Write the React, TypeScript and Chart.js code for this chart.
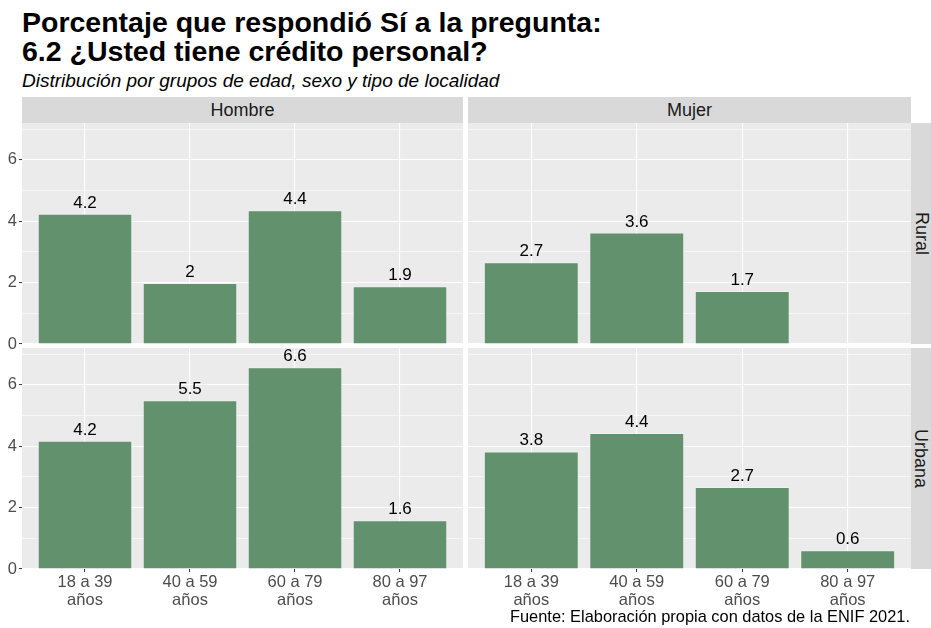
import React, { useEffect, useRef } from "react";
import { Chart, registerables } from "chart.js";

Chart.register(...registerables);

// ---- Data ----
const ageGroups: string[][] = [
  ["18 a 39", "años"],
  ["40 a 59", "años"],
  ["60 a 79", "años"],
  ["80 a 97", "años"],
];
const hombreRural: (number | null)[] = [4.24, 1.99, 4.36, 1.88];
const mujerRural: (number | null)[] = [2.66, 3.63, 1.73, null];
const hombreUrbana: (number | null)[] = [4.18, 5.5, 6.57, 1.59];
const mujerUrbana: (number | null)[] = [3.83, 4.43, 2.67, 0.61];
const yTickValues = [0, 1, 2, 3, 4, 5, 6, 7];
const yMax = 7.2;

const titleLines = ["Porcentaje que respondió Sí a la pregunta:", "6.2 ¿Usted tiene crédito personal?"];
const subtitle = "Distribución por grupos de edad, sexo y tipo de localidad";
const caption = "Fuente: Elaboración propia con datos de la ENIF 2021.";
const colStrips = ["Hombre", "Mujer"];
const rowStrips = ["Rural", "Urbana"];

const FONT = "'Liberation Sans', Arial, Helvetica, sans-serif";
Chart.defaults.font.family = FONT;

const panelBg = {
  id: "panelBg",
  beforeDraw(chart: any) {
    const { ctx, chartArea: a } = chart;
    ctx.save();
    ctx.fillStyle = "#EBEBEB";
    ctx.fillRect(a.left, a.top, a.right - a.left, a.bottom - a.top);
    ctx.restore();
  },
};

const barLabels = {
  id: "barLabels",
  afterDatasetsDraw(chart: any) {
    const ctx = chart.ctx;
    const meta = chart.getDatasetMeta(0);
    const ds = chart.data.datasets[0].data;
    ctx.save();
    ctx.font = `17px ${FONT}`;
    ctx.fillStyle = "#000000";
    ctx.textAlign = "center";
    ctx.textBaseline = "alphabetic";
    meta.data.forEach((el: any, i: number) => {
      const v = ds[i].y;
      if (v == null) return;
      ctx.fillText(String(Math.round(v * 10) / 10), el.x, el.y - 6);
    });
    ctx.restore();
  },
};

type PanelProps = {
  values: (number | null)[];
  showY: boolean;
  showX: boolean;
  left: number;
  top: number;
  width: number;
  plotH: number;
};

function Panel({ values, showY, showX, left, top, width, plotH }: PanelProps) {
  const ref = useRef<HTMLCanvasElement | null>(null);
  const xAxisH = showX ? 45 : 8;
  const height = plotH + xAxisH;
  useEffect(() => {
    if (!ref.current) return;
    const data = values
      .map((v, i) => (v == null ? null : { x: i, y: v }))
      .filter((d) => d !== null);
    const chart = new Chart(ref.current, {
      type: "bar",
      data: {
        datasets: [
          {
            data: data as any,
            backgroundColor: "#62916D",
            borderColor: "rgba(255,255,255,0.25)",
            borderWidth: 1,
            categoryPercentage: 1,
            barPercentage: 0.9,
          },
        ],
      },
      options: {
        responsive: false,
        animation: false,
        layout: { padding: 0 },
        plugins: { legend: { display: false }, tooltip: { enabled: false } },
        scales: {
          x: {
            type: "linear",
            min: -0.6,
            max: 3.6,
            offset: false,
            afterBuildTicks: (s: any) => {
              s.ticks = ageGroups.map((_, i) => ({ value: i }));
            },
            grid: {
              offset: false,
              color: "#FFFFFF",
              lineWidth: 1.1,
              drawTicks: showX,
              tickLength: 3,
              tickColor: "#333333",
              tickWidth: 1,
            },
            border: { display: false },
            ticks: {
              display: showX,
              autoSkip: false,
              maxRotation: 0,
              minRotation: 0,
              padding: 1,
              color: "#4D4D4D",
              font: { size: 16.5, family: FONT, lineHeight: 1.1 },
              callback: (v: any) => ageGroups[v as number],
            },
            afterFit: (s: any) => {
              s.height = xAxisH;
              s.paddingLeft = 0;
              s.paddingRight = 0;
              s.paddingTop = 0;
              s.paddingBottom = 0;
            },
          },
          y: {
            type: "linear",
            min: 0,
            max: yMax,
            afterBuildTicks: (s: any) => {
              s.ticks = yTickValues.map((v) => ({ value: v }));
            },
            grid: {
              color: "#FFFFFF",
              lineWidth: (c: any) => (c.tick && c.tick.value % 2 === 0 ? 1.1 : 0.55),
              drawTicks: showY,
              tickLength: 3,
              tickWidth: 1,
              tickColor: (c: any) =>
                c.tick && c.tick.value % 2 === 0 ? "#333333" : "rgba(0,0,0,0)",
            },
            border: { display: false },
            ticks: {
              display: showY,
              autoSkip: false,
              padding: 2,
              color: "#4D4D4D",
              font: { size: 16.5, family: FONT },
              callback: (v: any) => ((v as number) % 2 === 0 ? String(v) : ""),
            },
            afterFit: (s: any) => {
              s.width = showY ? 22 : 0;
              s.paddingTop = 0;
              s.paddingBottom = 0;
              s.paddingLeft = 0;
              s.paddingRight = 0;
            },
          },
        },
      },
      plugins: [panelBg, barLabels],
    });
    return () => chart.destroy();
  }, []);
  return (
    <canvas
      ref={ref}
      width={width}
      height={height}
      style={{ position: "absolute", left, top, width, height }}
    />
  );
}

const stripStyle: React.CSSProperties = {
  position: "absolute",
  background: "#D9D9D9",
  color: "#1A1A1A",
  fontFamily: FONT,
  fontSize: 18,
  display: "flex",
  alignItems: "center",
  justifyContent: "center",
  whiteSpace: "nowrap",
};

export default function App() {
  const L = { x0: 0, x1: 463, rx0: 468, rx1: 911, t0: 123, tH: 221, b0: 348, bH: 221 };
  return (
    <div
      style={{
        position: "absolute",
        left: 0,
        top: 0,
        width: 931,
        height: 628,
        background: "#FFFFFF",
        overflow: "hidden",
        fontFamily: FONT,
      }}
    >
      <div
        style={{
          position: "absolute",
          left: 22,
          top: 8,
          fontSize: 28.5,
          fontWeight: "bold",
          lineHeight: "29px",
          color: "#000",
          whiteSpace: "nowrap",
        }}
      >
        <div>{titleLines[0]}</div>
        <div>{titleLines[1]}</div>
      </div>
      <div
        style={{
          position: "absolute",
          left: 22,
          top: 69.5,
          fontSize: 19,
          fontStyle: "italic",
          color: "#000",
          whiteSpace: "nowrap",
          lineHeight: "22px",
        }}
      >
        {subtitle}
      </div>

      <div style={{ ...stripStyle, left: 22, top: 97, width: 441, height: 26 }}>{colStrips[0]}</div>
      <div style={{ ...stripStyle, left: 468, top: 97, width: 443, height: 26 }}>{colStrips[1]}</div>
      <div style={{ ...stripStyle, left: 911, top: 123, width: 20, height: 221 }}>
        <span style={{ transform: "rotate(90deg)", display: "inline-block" }}>{rowStrips[0]}</span>
      </div>
      <div style={{ ...stripStyle, left: 911, top: 348, width: 20, height: 221 }}>
        <span style={{ transform: "rotate(90deg)", display: "inline-block" }}>{rowStrips[1]}</span>
      </div>

      <Panel values={hombreRural} showY={true} showX={false} left={L.x0} top={L.t0} width={L.x1} plotH={L.tH} />
      <Panel values={mujerRural} showY={false} showX={false} left={L.rx0} top={L.t0} width={L.rx1 - L.rx0} plotH={L.tH} />
      <Panel values={hombreUrbana} showY={true} showX={true} left={L.x0} top={L.b0} width={L.x1} plotH={L.bH} />
      <Panel values={mujerUrbana} showY={false} showX={true} left={L.rx0} top={L.b0} width={L.rx1 - L.rx0} plotH={L.bH} />

      <div
        style={{
          position: "absolute",
          right: 21,
          top: 607,
          fontSize: 16.4,
          color: "#000",
          whiteSpace: "nowrap",
          lineHeight: "18px",
        }}
      >
        {caption}
      </div>
    </div>
  );
}
